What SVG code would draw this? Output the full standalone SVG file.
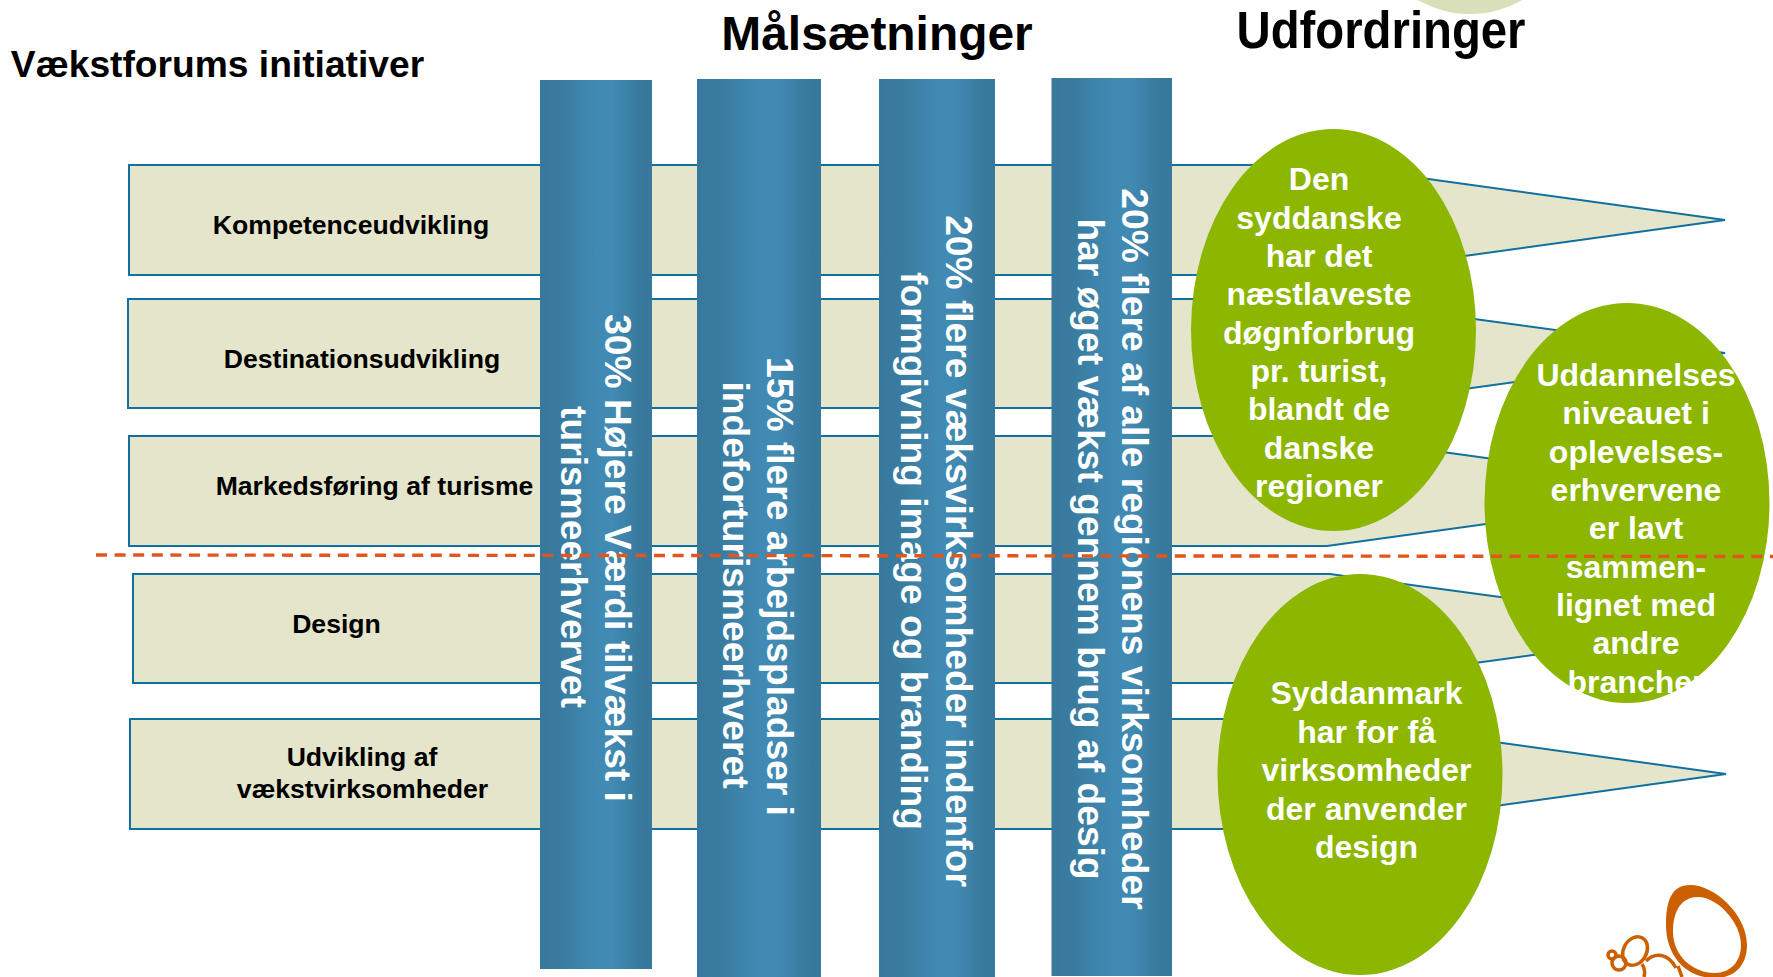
<svg xmlns="http://www.w3.org/2000/svg" width="1773" height="977" viewBox="0 0 1773 977">
<style>
text{font-family:"Liberation Sans",Arial,sans-serif;font-weight:bold}
.h{fill:#000;text-anchor:middle}
.l{fill:#000;font-size:26.6px;text-anchor:middle}
.b{fill:#e4e5ca;stroke:#10709f;stroke-width:2}
.e{fill:#8cb600}
.et{fill:#fff;font-size:32px;text-anchor:middle}
.bt{fill:#fff;font-size:37.2px;text-anchor:middle}
.bar{fill:url(#g)}
</style>
<defs>
<linearGradient id="g" x1="0" x2="1" y1="0" y2="0">
<stop offset="0" stop-color="#38789c"/><stop offset=".2" stop-color="#3a7ca0"/><stop offset=".5" stop-color="#408ab3"/><stop offset=".65" stop-color="#408ab3"/><stop offset=".92" stop-color="#38789c"/><stop offset="1" stop-color="#38789c"/>
</linearGradient>
</defs>
<rect width="1773" height="977" fill="#fff"/>
<ellipse id="top-ellipse" cx="1470" cy="-186" rx="143" ry="200" fill="#d9dfb8"/>
<text class="h" x="217.500" y="77" font-size="37.200" id="title-left">Vækstforums initiativer</text>
<text class="h" x="877" y="50" font-size="47.900" id="title-mid">Målsætninger</text>
<text class="h" x="1381" y="48" font-size="51" textLength="289" lengthAdjust="spacingAndGlyphs" id="title-right">Udfordringer</text>
<g id="band-1"><path class="b" d="M129 165H1327L1725 220L1327 275H129Z"/><text class="l" x="351" y="234">Kompetenceudvikling</text></g>
<g id="band-2"><path class="b" d="M128 299H1327L1725 353L1327 408H128Z"/><text class="l" x="362" y="368">Destinationsudvikling</text></g>
<g id="band-3"><path class="b" d="M129 436H1327L1725 491L1327 546H129Z"/><text class="l" x="374.500" y="495">Markedsføring af turisme</text></g>
<g id="band-4"><path class="b" d="M133 574H1330L1729 628L1330 683H133Z"/><text class="l" x="336.500" y="633">Design</text></g>
<g id="band-5"><path class="b" d="M130 719H1328L1726 774L1328 829H130Z"/><text class="l" x="362" y="766">Udvikling af</text><text class="l" x="362.500" y="798">vækstvirksomheder</text></g>
<g id="bar-1"><rect class="bar" x="540" y="80" width="112" height="889"/>
<text class="bt" transform="translate(605 558) rotate(90)">30% Højere Værdi tilvækst i</text>
<text class="bt" transform="translate(561 557) rotate(90)">turismeerhvervet</text></g>
<g id="bar-2"><rect class="bar" x="697" y="79" width="124" height="898"/>
<text class="bt" transform="translate(767 586.500) rotate(90)">15% flere arbejdspladser i</text>
<text class="bt" transform="translate(723 585) rotate(90)">indeforturismeerhveret</text></g>
<g id="bar-3"><rect class="bar" x="879" y="79" width="116" height="898"/>
<text class="bt" transform="translate(945.500 551) rotate(90)">20% flere væksvirksomheder indenfor</text>
<text class="bt" transform="translate(901 551) rotate(90)">formgivning image og branding</text></g>
<g id="bar-4"><rect class="bar" x="1051.500" y="78" width="120.500" height="898"/>
<text class="bt" transform="translate(1122 549) rotate(90)">20% flere af alle regionens virksomheder</text>
<text class="bt" transform="translate(1078 549) rotate(90)">har øget vækst gennem brug af desig</text></g>
<g id="challenge-1"><ellipse class="e" cx="1333.500" cy="330" rx="142.500" ry="201"/>
<text class="et" x="1319" y="190">Den</text><text class="et" x="1319" y="229">syddanske</text><text class="et" x="1319" y="267">har det</text><text class="et" x="1319" y="305">næstlaveste</text><text class="et" x="1319" y="344">døgnforbrug</text><text class="et" x="1319" y="382">pr. turist,</text><text class="et" x="1319" y="420">blandt de</text><text class="et" x="1319" y="459">danske</text><text class="et" x="1319" y="497">regioner</text></g>
<g id="challenge-2"><ellipse class="e" cx="1627" cy="503" rx="142.500" ry="200"/>
<text class="et" x="1636" y="386">Uddannelses</text><text class="et" x="1636" y="424">niveauet i</text><text class="et" x="1636" y="463">oplevelses-</text><text class="et" x="1636" y="501">erhvervene</text><text class="et" x="1636" y="539">er lavt</text><text class="et" x="1636" y="578">sammen-</text><text class="et" x="1636" y="616">lignet med</text><text class="et" x="1636" y="654">andre</text><text class="et" x="1636" y="693">brancher</text></g>
<g id="challenge-3"><ellipse class="e" cx="1360" cy="774.500" rx="142.500" ry="200.500"/>
<text class="et" x="1366.500" y="704">Syddanmark</text><text class="et" x="1366.500" y="743">har for få</text><text class="et" x="1366.500" y="781">virksomheder</text><text class="et" x="1366.500" y="820">der anvender</text><text class="et" x="1366.500" y="858">design</text></g>
<path id="divider" d="M96 555L1773 556.500" fill="none" stroke="#e0561e" stroke-width="3.400" stroke-dasharray="11 7.600"/>
<g id="logo">
<path fill="#cc5f00" fill-rule="evenodd" d="M1690 885C1715 885 1747 915 1747 945C1747 965 1735 978 1715 978C1685 978 1666 955 1666 925C1666 900 1672 885 1690 885ZM1698 897C1717 897 1741 922 1741 945C1741 962 1730 973 1715 973C1692 973 1673 955 1673 932C1673 910 1682 897 1698 897Z"/>
<g fill="none" stroke="#cc5f00" stroke-width="3.500">
<ellipse cx="1635" cy="951" rx="15" ry="11.500" transform="rotate(-60 1635 951)"/>
<circle cx="1619" cy="963" r="7"/>
<circle cx="1612" cy="955" r="4"/>
<path d="M1646 961C1655 952 1668 953 1676 968M1642 964C1645 968 1645 973 1644 977M1678 966L1682 977"/>
</g></g>
</svg>
